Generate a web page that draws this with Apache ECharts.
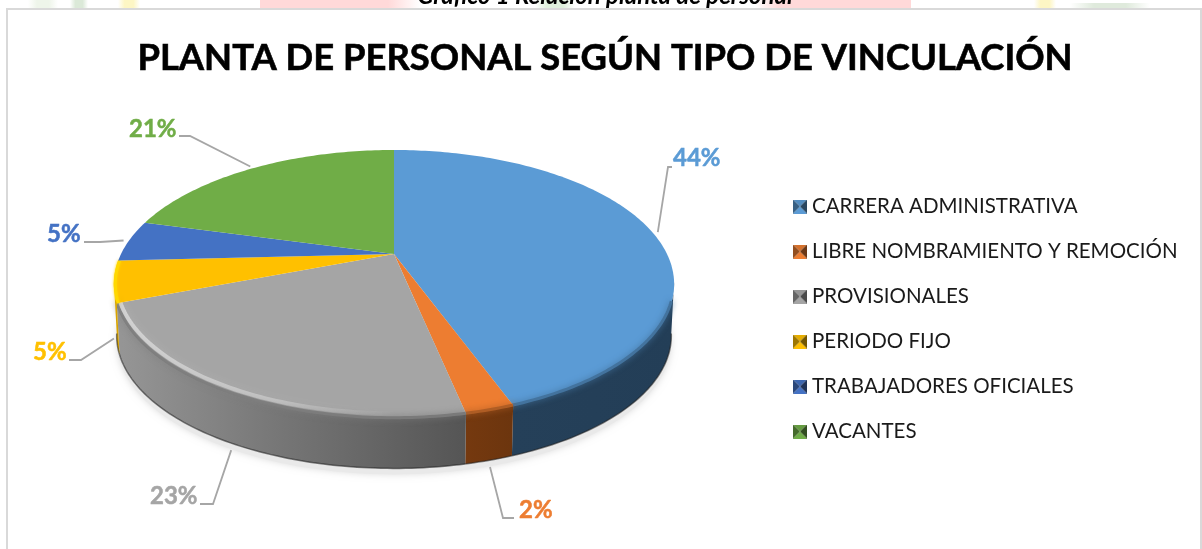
<!DOCTYPE html>
<html>
<head>
<meta charset="utf-8">
<script src="https://cdn.jsdelivr.net/npm/echarts@6/dist/echarts.min.js"></script>
<style>
  html, body { margin: 0; padding: 0; background: #fff; overflow: hidden; }
  #chart { width: 1202px; height: 549px; }
</style>
</head>
<body>
<div id="chart"></div>
<script>
const categories = ['CARRERA ADMINISTRATIVA', 'LIBRE NOMBRAMIENTO Y REMOCIÓN', 'PROVISIONALES', 'PERIODO FIJO', 'TRABAJADORES OFICIALES', 'VACANTES'];
const values = [44.4, 2.3, 22.5, 5, 5, 20.8];
const labels = ['44%', '2%', '23%', '5%', '5%', '21%'];
const colors = ['#5b9bd5', '#ed7d31', '#a5a5a5', '#ffc000', '#4472c4', '#70ad47'];

// forma del pastel (proyeccion en perspectiva)
const apex = [394, 254];
const persp = 0.224, halfH = 127.3, halfW = 273, depth = 52, bottomScale = 0.99;
const frontFrom = 102, frontTo = 258;

// [codo de la guia], [fin de la guia], [x, y del texto], pared?
const leaders = [
  { knee: [668, 167], end: [672, 167], text: [673, 158], wall: false },
  { knee: [503, 518], end: [514, 518], text: [519, 510], wall: true },
  { knee: [213, 504], end: [200, 504], text: [150, 496], wall: true },
  { knee: [81, 360], end: [69, 360], text: [33, 352], wall: true },
  { knee: [100, 242], end: [84, 242], text: [47, 234], wall: false },
  { knee: [190, 136], end: [179, 136], text: [129, 129], wall: false }
];

const total = values.reduce((a, b) => a + b, 0);
const starts = [];
values.reduce((acc, v, i) => { starts[i] = acc / total * 360; return acc + v; }, 0);

function rim(deg, drop, scale) {
  const t = deg * Math.PI / 180;
  const X = Math.sin(t), Y = -Math.cos(t), d = 1 - persp * Y;
  const s = scale || 1;
  return [apex[0] + s * halfW * X / d, apex[1] + s * halfH * Y / d + (drop || 0)];
}

function arc(from, to, drop, scale) {
  const pts = [];
  for (let a = from; a < to; a += 1) pts.push(rim(a, drop, scale));
  pts.push(rim(to, drop, scale));
  return pts;
}

function shade(hex, f) {
  const n = parseInt(hex.slice(1), 16);
  const c = [n >> 16, (n >> 8) & 255, n & 255].map(v => Math.round(v * f));
  return 'rgb(' + c.join(',') + ')';
}

function hGrad(stops) {
  return { type: 'linear', x: 0, y: 0, x2: 1, y2: 0, colorStops: stops };
}

function fadeBand(color) {
  return hGrad([{ offset: 0, color: '#ffffff' }, { offset: 0.3, color: color }, { offset: 0.7, color: color }, { offset: 1, color: '#ffffff' }]);
}

const wallFill = [
  hGrad([{ offset: 0, color: '#254059' }, { offset: 1, color: '#233e57' }]),
  hGrad([{ offset: 0, color: '#75390f' }, { offset: 1, color: '#6c350e' }]),
  hGrad([{ offset: 0, color: '#969696' }, { offset: 0.5, color: '#747474' }, { offset: 1, color: '#555555' }]),
  '#d9a400', '#2f5597', '#4e7a31'
];

function legendIcon(color) {
  const cv = document.createElement('canvas');
  cv.width = cv.height = 14;
  const g = cv.getContext('2d');
  const tri = (x1, y1, x2, y2, fill) => {
    g.fillStyle = fill;
    g.beginPath(); g.moveTo(x1, y1); g.lineTo(x2, y2); g.lineTo(7, 7); g.closePath(); g.fill();
  };
  tri(0, 0, 14, 0, shade(color, 0.9));
  tri(0, 14, 14, 14, shade(color, 1));
  tri(0, 0, 0, 14, shade(color, 0.62));
  tri(14, 0, 14, 14, shade(color, 0.45));
  return 'image://' + cv.toDataURL();
}

function sliceItem(i) {
  return function () {
    const a = starts[i], b = a + values[i] / total * 360;
    const kids = [];
    if (i === 0) {
      // sombra suave debajo del pastel
      kids.push({
        type: 'polygon', silent: true,
        shape: { points: arc(frontFrom - 12, frontTo + 12, depth + 6, bottomScale) },
        style: { fill: '#e9e9e9', shadowBlur: 7, shadowColor: '#dddddd' }
      });
    }
    const from = Math.max(a, frontFrom), to = Math.min(b, frontTo);
    const front = from < to;
    if (front) {
      const top = arc(from, to, 0);
      const bottom = arc(from, to, depth, bottomScale).reverse();
      kids.push({ type: 'polygon', shape: { points: top.concat(bottom) }, style: { fill: wallFill[i] } });
      // filo oscuro abajo
      kids.push({
        type: 'polyline', shape: { points: bottom },
        style: { stroke: 'rgba(30,30,30,0.55)', lineWidth: 1.5, fill: null }
      });
    }
    kids.push({ type: 'polygon', shape: { points: [apex].concat(arc(a, b, 0)) }, style: { fill: colors[i] } });
    const bevelFrom = Math.max(a, frontFrom + 8), bevelTo = Math.min(b, frontTo - 8);
    if (bevelFrom < bevelTo) {
      // bisel del borde
      const soft = shade(colors[i], 0.74);
      kids.push({
        type: 'polyline', shape: { points: arc(bevelFrom, bevelTo, 0, 0.998) },
        style: { stroke: soft, lineWidth: 3, fill: null, shadowBlur: 6, shadowColor: soft }
      });
      if (i === 2) {
        kids.push({
          type: 'polyline', shape: { points: arc(bevelFrom, bevelTo, -3, 0.99) },
          style: {
            stroke: hGrad([{ offset: 0, color: 'rgba(255,255,255,0.5)' }, { offset: 0.45, color: 'rgba(255,255,255,0.3)' }, { offset: 0.8, color: 'rgba(255,255,255,0)' }]),
            lineWidth: 4, fill: null, shadowBlur: 7, shadowColor: 'rgba(255,255,255,0.4)'
          }
        });
      }
    }
    if (i === 3) {
      // brillo del borde amarillo
      kids.push({
        type: 'polyline', shape: { points: arc(a, b, 0, 0.995) },
        style: { stroke: '#ffd800', lineWidth: 3, fill: null, shadowBlur: 3, shadowColor: '#ffd800' }
      });
    }
    // guia y etiqueta
    const L = leaders[i];
    const mid = rim((a + b) / 2, L.wall ? depth : 0, L.wall ? 1 : 1.02);
    if (L.wall) mid[1] += 5;
    kids.push({
      type: 'polyline', shape: { points: [mid, L.knee, L.end] },
      style: { stroke: '#a6a6a6', lineWidth: 1.8, fill: null }
    });
    kids.push({
      type: 'text',
      style: { text: labels[i], x: L.text[0], y: L.text[1], fill: colors[i], font: 'bold 24px Lato', verticalAlign: 'middle', stroke: colors[i], lineWidth: 0.5 }
    });
    return { type: 'group', children: kids };
  };
}

const chart = echarts.init(document.getElementById('chart'), null, { renderer: 'canvas' });
chart.setOption({
  animation: false,
  backgroundColor: '#ffffff',
  title: {
    text: 'PLANTA DE PERSONAL SEGÚN TIPO DE VINCULACIÓN',
    left: 600, top: 35, textAlign: 'center',
    textStyle: { fontFamily: 'Lato', fontWeight: 'bold', fontSize: 36.4, color: '#000000', textBorderColor: '#000000', textBorderWidth: 0.6 }
  },
  legend: {
    orient: 'vertical', left: 788, top: 191,
    itemWidth: 14, itemHeight: 14, itemGap: 24,
    textStyle: { fontFamily: 'Lato', fontSize: 20.5, color: '#1a1a1a', padding: [0, 0, 0, 0], lineHeight: 20 },
    selectedMode: false,
    data: categories.map((name, i) => ({ name: name, icon: legendIcon(colors[i]) }))
  },
  graphic: {
    z: 0,
    elements: [
      { type: 'rect', silent: true, shape: { x: 28, y: 0, width: 30, height: 8 }, style: { fill: fadeBand('#eef5ea') } },
      { type: 'rect', silent: true, shape: { x: 70, y: 0, width: 18, height: 8 }, style: { fill: fadeBand('#dbe9d8') } },
      { type: 'rect', silent: true, shape: { x: 118, y: 0, width: 22, height: 8 }, style: { fill: fadeBand('#fdf6c4') } },
      { type: 'rect', silent: true, shape: { x: 260, y: 0, width: 160, height: 8 }, style: { fill: hGrad([{ offset: 0, color: '#ffd9d9' }, { offset: 0.8, color: '#ffd9d9' }, { offset: 1, color: '#ffffff' }]) } },
      { type: 'rect', silent: true, shape: { x: 535, y: 0, width: 40, height: 8 }, style: { fill: fadeBand('#dff0dc') } },
      { type: 'rect', silent: true, shape: { x: 755, y: 0, width: 156, height: 8 }, style: { fill: hGrad([{ offset: 0, color: '#ffffff' }, { offset: 0.15, color: '#ffd9d9' }, { offset: 1, color: '#ffd9d9' }]) } },
      { type: 'rect', silent: true, shape: { x: 1034, y: 0, width: 22, height: 8 }, style: { fill: fadeBand('#fdf6c4') } },
      { type: 'rect', silent: true, shape: { x: 1070, y: 3, width: 80, height: 5 }, style: { fill: fadeBand('#dfeadc') } },
      {
        type: 'text', silent: true,
        style: { text: 'Gráfico 1 Relación planta de personal', x: 605, y: 8, align: 'center', verticalAlign: 'bottom', fill: '#000', font: 'italic bold 24px Lato' }
      },
      { type: 'rect', silent: true, shape: { x: 7, y: 9, width: 1194, height: 560 }, style: { fill: '#fff', stroke: '#d9d9d9', lineWidth: 2 } }
    ]
  },
  series: categories.map((name, i) => ({
    name: name,
    type: 'custom',
    coordinateSystem: 'none',
    z: 2,
    silent: true,
    itemStyle: { color: colors[i] },
    data: [values[i]],
    renderItem: sliceItem(i)
  }))
});
</script>
</body>
</html>
